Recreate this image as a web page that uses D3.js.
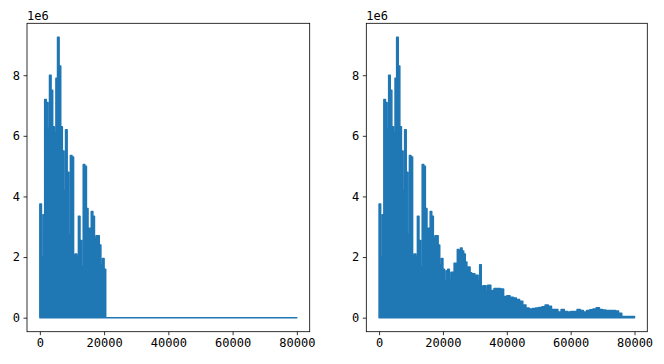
<!DOCTYPE html>
<html>
<head>
<meta charset="utf-8">
<title>spectrum</title>
<style>
    body { margin: 0; background: #fff; }
    svg { display: block; }
    .tick text { font-family: "DejaVu Sans Mono", monospace; font-size: 12px; fill: #000; }
    .tick line { stroke: #000; stroke-width: 0.8; }
    .frame { fill: none; stroke: #000; stroke-width: 0.8; }
    .offset { font-family: "DejaVu Sans Mono", monospace; font-size: 12px; fill: #000; }
    .sig { fill: #1f77b4; stroke: #1f77b4; stroke-width: 1.5; stroke-linejoin: round; }
</style>
<script src="https://cdn.jsdelivr.net/npm/d3@7"></script>
</head>
<body>
<svg id="main" width="664" height="364"></svg>
<script>
// spectrum envelope: bin start (x1000) and peak height (x1e6)
let binStartK = [0, 0.5, 1, 1.5, 2, 2.5, 3, 3.5, 4, 4.5, 5, 5.5, 6, 6.5, 7, 7.5, 8, 8.5, 9, 9.5,
    10, 10.5, 11, 11.5, 12, 12.5, 13, 13.5, 14, 14.5, 15, 15.5, 16, 16.5, 17, 17.5, 18, 18.5, 19, 19.5,
    20, 20.5, 21, 21.5, 22, 22.5, 23, 23.5, 24, 24.5, 25, 25.5, 26, 26.5, 27, 27.5, 28, 28.5, 29, 29.5,
    30, 30.5, 31, 31.5, 32, 32.5, 33, 33.5,
    34, 35, 36, 37, 38, 39, 40, 41, 42, 43, 44, 45, 46, 47, 48, 49, 50, 51, 52, 53, 54, 55,
    56, 57, 58, 59, 60, 61, 62, 63, 64, 65, 66, 67, 68, 69, 70, 71, 72, 73, 74, 75, 76];
let peakM = [3.75, 2.0, 3.4, 7.2, 7.1, 6.25, 8.0, 7.5, 6.3, 6.1, 7.9, 9.25, 8.3, 6.3, 5.5, 4.2, 6.2, 4.8, 2.75, 5.35,
    5.3, 2.05, 2.1, 2.0, 3.35, 2.55, 1.7, 5.05, 5.0, 3.6, 2.95, 2.95, 3.5, 3.35, 2.6, 2.7, 2.7, 2.4, 1.75, 1.95,
    1.6, 1.2, 1.55, 1.6, 1.25, 1.5, 1.5, 1.8, 1.8, 2.25, 2.2, 2.3, 2.2, 2.1, 1.84, 1.67, 1.67, 1.48, 1.45, 1.45,
    1.4, 1.4, 1.2, 1.75, 1.0, 1.05, 1.05, 0.85,
    1.07, 0.9, 0.96, 0.96, 0.95, 0.7, 0.72, 0.67, 0.65, 0.6, 0.54, 0.42, 0.32, 0.29, 0.3, 0.32, 0.34, 0.36, 0.42, 0.38, 0.27, 0.27,
    0.19, 0.27, 0.2, 0.19, 0.2, 0.2, 0.27, 0.24, 0.19, 0.24, 0.26, 0.29, 0.33, 0.27, 0.25, 0.24, 0.24, 0.24, 0.22, 0.15, 0.04];
let endK = 80;        // last sample
let cutoffK = 20.5;   // left panel: everything above is zeroed
let xTicks = [0, 20000, 40000, 60000, 80000];
let yTicks = [0, 2, 4, 6, 8];

let svg = d3.select('svg#main');

let full = binStartK.map((k, i) => ({ x: k * 1000, y: peakM[i] * 1e6 }));
full.push({ x: endK * 1000, y: peakM[peakM.length - 1] * 1e6 });

let cut = full.filter(d => d.x < cutoffK * 1000);
cut.push({ x: cutoffK * 1000, y: 0 });
cut.push({ x: endK * 1000, y: 0 });

let panels = [
    { left: 27, right: 309.7, rows: cut },
    { left: 366.3, right: 647.3, rows: full }
];
let plotTop = 23.3, plotBottom = 331.7;

for (let p of panels) {
    let x = d3.scaleLinear().domain([-4000, 84000]).range([p.left, p.right]);
    let y = d3.scaleLinear().domain([-0.4625e6, 9.7125e6]).range([plotBottom, plotTop]);

    let g = svg.append('g');

    let area = d3.area()
        .curve(d3.curveStepAfter)
        .x(d => x(d.x))
        .y0(y(0))
        .y1(d => y(d.y));

    g.append('path')
        .datum(p.rows)
        .attr('class', 'sig')
        .attr('d', area);

    g.append('g')
        .attr('transform', 'translate(0,' + plotBottom + ')')
        .call(d3.axisBottom(x).tickValues(xTicks).tickFormat(d3.format('d'))
            .tickSize(3.5).tickPadding(3.5))
        .call(a => a.select('.domain').remove());

    g.append('g')
        .attr('transform', 'translate(' + p.left + ',0)')
        .call(d3.axisLeft(y).tickValues(yTicks.map(v => v * 1e6)).tickFormat(v => v / 1e6)
            .tickSize(3.5).tickPadding(3.5))
        .call(a => a.select('.domain').remove());

    g.append('rect')
        .attr('class', 'frame')
        .attr('x', p.left).attr('y', plotTop)
        .attr('width', p.right - p.left).attr('height', plotBottom - plotTop);

    g.append('text')
        .attr('class', 'offset')
        .attr('x', p.left)
        .attr('y', 20)
        .text('1e6');
}
</script>
</body>
</html>
